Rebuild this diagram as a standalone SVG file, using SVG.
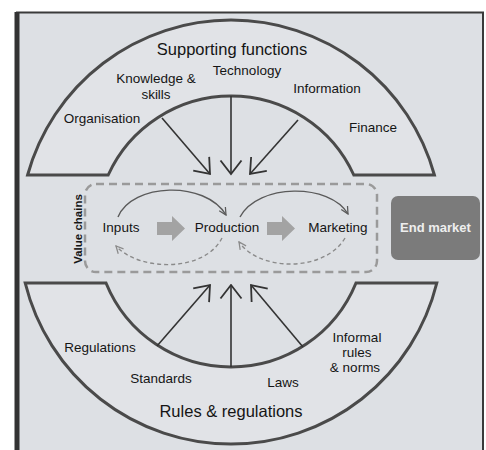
<svg xmlns="http://www.w3.org/2000/svg" width="486" height="450" viewBox="0 0 486 450">
<style>
text{font-family:"Liberation Sans",Arial,sans-serif;fill:#151515}
.lbl{font-size:13.5px}
.ttl{font-size:16.5px}
.mid{font-size:13.5px}
.band{fill:#e1e3e7;stroke:#4a4a4a;stroke-width:3;stroke-linejoin:miter}
.ar{fill:none;stroke:#333;stroke-width:1.6}
.cv{fill:none;stroke:#5a5a5a;stroke-width:1.4}
.cvd{fill:none;stroke:#8a8a8a;stroke-width:1.4;stroke-dasharray:4 3}
.blk{fill:#a3a3a3}
</style>
<defs>
<marker id="v" viewBox="0 0 16 24" markerWidth="16" markerHeight="24" refX="14.5" refY="12" orient="auto" markerUnits="userSpaceOnUse">
<path d="M1,1.5 L14.5,12 L1,22.5" fill="none" stroke="#333" stroke-width="1.8"/>
</marker>
<marker id="s" viewBox="0 0 10 10" markerWidth="9" markerHeight="9" refX="9" refY="5" orient="auto" markerUnits="userSpaceOnUse">
<path d="M1,1 L9,5 L1,9" fill="none" stroke="#5a5a5a" stroke-width="1.4"/>
</marker>
<marker id="sd" viewBox="0 0 10 10" markerWidth="9" markerHeight="9" refX="9" refY="5" orient="auto" markerUnits="userSpaceOnUse">
<path d="M1,1 L9,5 L1,9" fill="none" stroke="#8a8a8a" stroke-width="1.4"/>
</marker>
</defs>
<rect x="0" y="0" width="486" height="450" fill="#ffffff"/>
<rect x="17" y="12.5" width="466" height="440" fill="#dde0e4" stroke="#3a3a3a" stroke-width="2"/>
<line x1="17" y1="12" x2="17" y2="450" stroke="#333" stroke-width="5"/>

<g id="supporting-functions">
<path class="band" d="M27.6,175 A211,211 0 0 1 434.4,175 L353.8,175 A135,135 0 0 0 108.2,175 Z"/>
<text class="ttl" x="232" y="55" text-anchor="middle">Supporting functions</text>
<text class="lbl" x="156" y="83" text-anchor="middle">Knowledge &amp;</text>
<text class="lbl" x="156" y="99" text-anchor="middle">skills</text>
<text class="lbl" x="247" y="75" text-anchor="middle">Technology</text>
<text class="lbl" x="327" y="93" text-anchor="middle">Information</text>
<text class="lbl" x="102" y="123" text-anchor="middle">Organisation</text>
<text class="lbl" x="373" y="132" text-anchor="middle">Finance</text>
</g>

<g id="rules-regulations">
<path class="band" d="M25.2,283 A212,212 0 0 0 436.8,283 L356,283 A135,135 0 0 1 106,283 Z"/>
<text class="lbl" x="100" y="352" text-anchor="middle">Regulations</text>
<text class="lbl" x="161" y="383" text-anchor="middle">Standards</text>
<text class="lbl" x="283" y="387" text-anchor="middle">Laws</text>
<text class="lbl" x="357" y="342" text-anchor="middle">Informal</text>
<text class="lbl" x="357" y="357" text-anchor="middle">rules</text>
<text class="lbl" x="355" y="372" text-anchor="middle">&amp; norms</text>
<text class="ttl" x="231" y="417" text-anchor="middle">Rules &amp; regulations</text>
</g>

<g id="value-chains">
<rect x="85" y="184" width="292" height="88" rx="11" fill="none" stroke="#9a9a9a" stroke-width="2.5" stroke-dasharray="8 5"/>
<text transform="translate(82,229) rotate(-90)" x="0" y="0" text-anchor="middle" font-size="11.5" font-weight="bold">Value chains</text>
</g>
<g id="inputs"><text class="mid" x="121" y="232" text-anchor="middle">Inputs</text></g>
<g id="production"><text class="mid" x="227" y="232" text-anchor="middle">Production</text></g>
<g id="marketing"><text class="mid" x="338" y="232" text-anchor="middle">Marketing</text></g>
<g id="end-market">
<rect x="391" y="196" width="89" height="64" rx="7" fill="#7b7b7b"/>
<text x="435.5" y="232" text-anchor="middle" font-size="13" font-weight="bold" style="fill:#eeeeee">End market</text>
</g>

<g id="connectors">
<line class="ar" x1="162" y1="118" x2="210" y2="174" marker-end="url(#v)"/>
<line class="ar" x1="231" y1="96" x2="231" y2="174" marker-end="url(#v)"/>
<line class="ar" x1="298" y1="120" x2="250" y2="174" marker-end="url(#v)"/>
<line class="ar" x1="157" y1="346" x2="210" y2="285" marker-end="url(#v)"/>
<line class="ar" x1="231" y1="367" x2="231" y2="285" marker-end="url(#v)"/>
<line class="ar" x1="303" y1="347" x2="251" y2="285" marker-end="url(#v)"/>
<path class="blk" d="M157,222 L172,222 L172,216 L185,228.5 L172,241 L172,235 L157,235 Z"/>
<path class="blk" d="M267,222 L282,222 L282,216 L295,228.5 L282,241 L282,235 L267,235 Z"/>
<path class="cv" d="M118,217 C132,183 205,180 226,215" marker-end="url(#s)"/>
<path class="cv" d="M240,217 C258,183 330,183 348,214" marker-end="url(#s)"/>
<path class="cvd" d="M222,238 C205,272 140,272 116,246" marker-end="url(#sd)"/>
<path class="cvd" d="M345,238 C325,272 260,272 239,242" marker-end="url(#sd)"/>
</g>
</svg>
